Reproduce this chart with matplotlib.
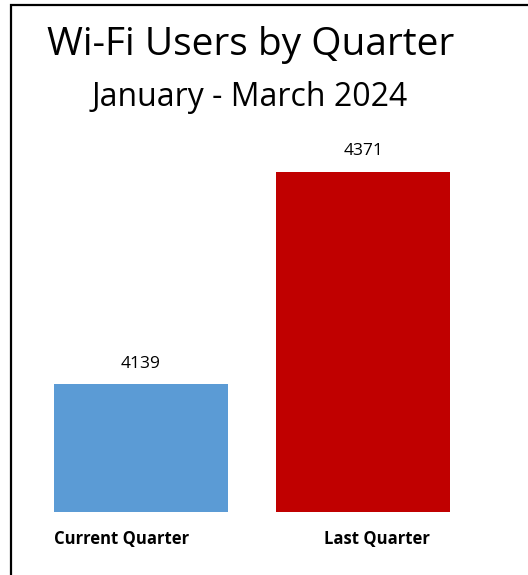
import matplotlib.pyplot as plt
from matplotlib.patches import Rectangle

# datos
categorias = ["Current Quarter", "Last Quarter"]
usuarios = [4139, 4371]
colores = ["#5B9BD5", "#C00000"]
titulo = "Wi-Fi Users by Quarter"
subtitulo = "January - March 2024"

plt.rcParams['font.family'] = ['Open Sans', 'DejaVu Sans']

fig = plt.figure(figsize=(5.28, 5.75), dpi=100)
ax = fig.add_axes([54/528, 63/575, 396/528, 367/575])

x = range(len(categorias))
barras = ax.bar(x, usuarios, width=0.78, color=colores)
ax.set_xlim(-0.39, 1.39)
ax.set_ylim(4000, 4400)

for b, v in zip(barras, usuarios):
    ax.annotate(str(v), (b.get_x() + b.get_width()/2, v), xytext=(0, 9),
                textcoords="offset points", ha="center", va="bottom", fontsize=12.5)

# etiquetas de categoria
ax.text(-0.39, -0.05, categorias[0], transform=ax.get_xaxis_transform(),
        ha="left", va="top", fontsize=12, fontweight="bold")
ax.text(1.06, -0.05, categorias[1], transform=ax.get_xaxis_transform(),
        ha="center", va="top", fontsize=12, fontweight="bold")

ax.axis("off")

fig.text(251/528, 1 - 45/575, titulo, ha="center", va="center", fontsize=28)
fig.text(250/528, 1 - 98/575, subtitulo, ha="center", va="center", fontsize=23)

# marco
fig.patches.append(Rectangle((11/528, -0.1), 1.2, 1.1 - 5/575, transform=fig.transFigure,
                             fill=False, edgecolor="black", linewidth=1.6))

fig.savefig("out.png", dpi=100)
